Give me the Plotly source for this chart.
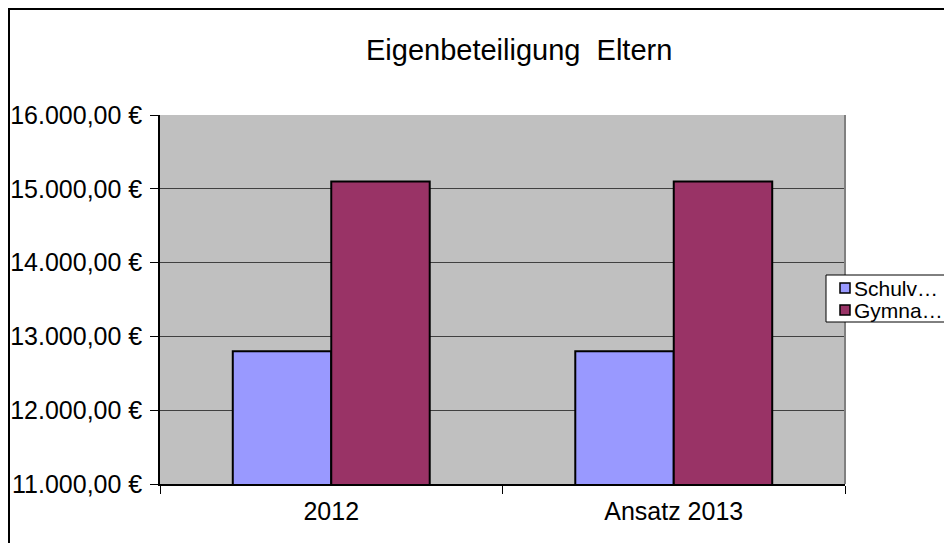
import plotly.graph_objects as go

# ---- data ----
categories = ["2012", "Ansatz 2013"]
series_names = ["Schulv…", "Gymna…"]
schulv_values = [12800, 12800]
gymna_values = [15100, 15100]
y_tickvals = [11000, 12000, 13000, 14000, 15000, 16000]
y_ticktext = ["11.000,00 €", "12.000,00 €", "13.000,00 €", "14.000,00 €", "15.000,00 €", "16.000,00 €"]
title_text = "Eigenbeteiligung\u00a0\u00a0Eltern"
colors = ["#9999FF", "#993366"]

FONT = "Liberation Sans, Arial, sans-serif"
OFF = 8  # default page body margin
W, H = 952, 543
PL, PR, PT, PB = 160, 845, 115, 484  # plot area in screen pixels
PW, PH = PR - PL, PB - PT
L, T = PL - OFF, PT - OFF
R = W - L - PW
B = H - T - PH


def px(x):
    return (x - PL) / PW


def py(y):
    return (PB - y) / PH


fig = go.Figure()
for name, vals, col in zip(series_names, [schulv_values, gymna_values], colors):
    fig.add_trace(go.Bar(
        x=categories, y=vals, name=name,
        marker=dict(color=col, line=dict(color="black", width=2)),
        showlegend=False,
    ))

fig.update_layout(
    width=W, height=H,
    margin=dict(l=L, r=R, t=T, b=B, pad=0, autoexpand=False),
    paper_bgcolor="white",
    plot_bgcolor="#C0C0C0",
    barmode="group",
    bargap=0.425,
    bargroupgap=0,
    font=dict(family=FONT, size=25, color="black"),
)

fig.update_xaxes(
    type="category",
    automargin=False,
    showgrid=False,
    showline=True, linecolor="black", linewidth=2,
    ticks="outside", ticklen=8, tickcolor="black", tickwidth=1,
    tickson="boundaries",
    ticklabelstandoff=4,
    tickfont=dict(family=FONT, size=25, color="black"),
)
fig.update_yaxes(
    range=[11000, 16000],
    automargin=False,
    tickvals=y_tickvals, ticktext=y_ticktext,
    showgrid=True, gridcolor="#404040", gridwidth=1,
    showline=True, linecolor="black", linewidth=1.5,
    ticks="outside", ticklen=8, tickcolor="black", tickwidth=1,
    ticklabelstandoff=3,
    tickfont=dict(family=FONT, size=25, color="black"),
    zeroline=False,
)

shapes = []
# right plot-area border (gray)
shapes.append(dict(type="line", xref="paper", yref="paper", x0=1, x1=1, y0=0, y1=1,
                   line=dict(color="#808080", width=2)))
# chart outer border
shapes.append(dict(type="rect", xref="paper", yref="paper",
                   x0=px(9), x1=px(970), y0=py(9), y1=py(570),
                   line=dict(color="black", width=2), fillcolor="rgba(0,0,0,0)"))
# legend box
shapes.append(dict(type="rect", xref="paper", yref="paper",
                   x0=px(826), x1=px(950), y0=py(275), y1=py(322),
                   line=dict(color="black", width=1), fillcolor="white", layer="above"))
annotations = []
legend_rows = [288, 310]
for name, col, yc in zip(series_names, colors, legend_rows):
    shapes.append(dict(type="rect", xref="paper", yref="paper",
                       x0=px(840), x1=px(850), y0=py(yc - 5), y1=py(yc + 5),
                       line=dict(color="black", width=1.5), fillcolor=col, layer="above"))
    annotations.append(dict(text=name, xref="paper", yref="paper", x=px(852), y=py(yc),
                            xanchor="left", yanchor="middle", showarrow=False,
                            font=dict(family=FONT, size=21, color="black")))

annotations.append(dict(text=title_text, xref="paper", yref="paper",
                        x=px(519), y=py(50), xanchor="center", yanchor="middle",
                        showarrow=False, font=dict(family=FONT, size=29, color="black")))

fig.update_layout(shapes=shapes, annotations=annotations)
fig.write_html("out.html")
